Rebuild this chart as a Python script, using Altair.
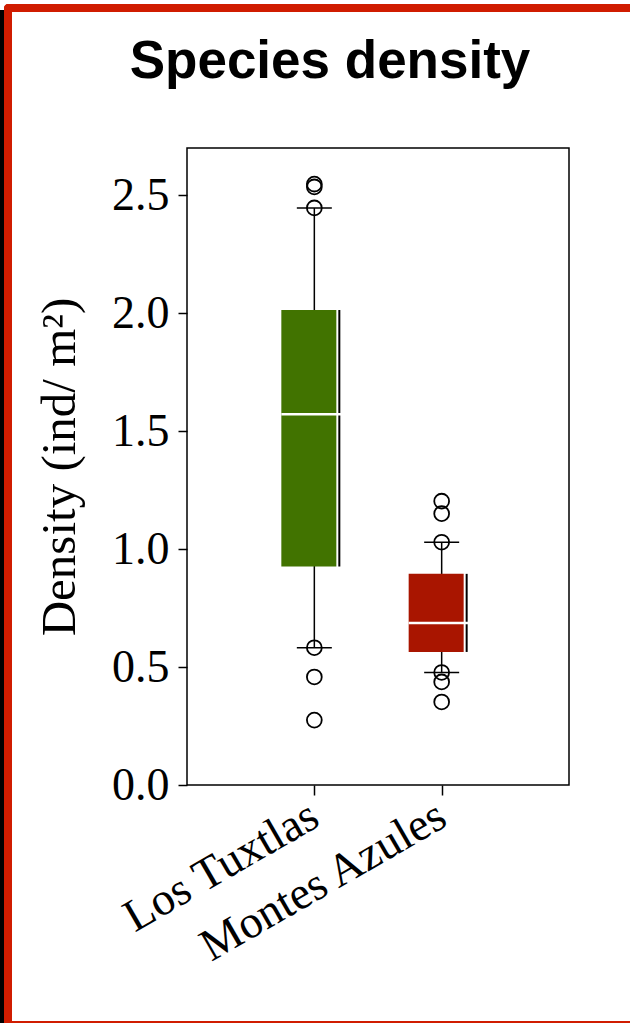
import altair as alt
import pandas as pd

groups = ["Los Tuxtlas", "Montes Azules"]
q1 = [0.926, 0.564]
median = [1.571, 0.687]
q3 = [2.013, 0.895]
whisker_low = [0.582, 0.477]
whisker_high = [2.446, 1.029]
box_colors = ["#417300", "#a91500"]

outlier_group = ["Los Tuxtlas"] * 6 + ["Montes Azules"] * 6
outlier_values = [2.547, 2.535, 2.446, 0.582, 0.458, 0.275,
                  1.203, 1.150, 1.029, 0.477, 0.437, 0.352]

y_ticks = [0.0, 0.5, 1.0, 1.5, 2.0, 2.5]

stats = pd.DataFrame({
    "group": groups, "q1": q1, "median": median, "q3": q3,
    "lo": whisker_low, "hi": whisker_high,
})
outliers = pd.DataFrame({"group": outlier_group, "value": outlier_values})
one = pd.DataFrame({"k": [0]})

W, H = 382, 637
SERIF = "Liberation Serif"

x_enc = alt.X(
    "group:N",
    scale=alt.Scale(type="point", padding=1, domain=groups),
    axis=alt.Axis(
        title=None, labelAngle=330, labelAlign="right", labelBaseline="middle",
        labelFont=SERIF, labelFontSize=46, labelColor="black",
        labelPadding=17, tickSize=10, tickWidth=1.5, tickColor="black",
        domain=False, grid=False, zindex=1, labelLimit=400,
    ),
)


def y_enc(field):
    return alt.Y(
        f"{field}:Q",
        scale=alt.Scale(domain=[0, 2.7], nice=False, zero=False),
        axis=alt.Axis(
            title="Density (ind/ m²)", values=y_ticks, format=".1f",
            labelFont=SERIF, labelFontSize=46, labelColor="black",
            labelPadding=9, tickSize=9, tickWidth=1.5, tickColor="black",
            titleFont=SERIF, titleFontSize=49, titleFontWeight="normal",
            titleColor="black", titlePadding=27,
            domain=False, grid=False, zindex=1,
        ),
    )


# decorative canvas frame (pixel geometry, not data)
bounds = alt.Chart(one).mark_rect(fill="white", fillOpacity=0).encode(
    x=alt.value(-187), x2=alt.value(443), y=alt.value(-148), y2=alt.value(875))
black_strip = alt.Chart(one).mark_rect(fill="black").encode(
    x=alt.value(-187), x2=alt.value(-183), y=alt.value(-138), y2=alt.value(875))
red_left = alt.Chart(one).mark_rect(fill="#d01c00", cornerRadiusTopLeft=6).encode(
    x=alt.value(-183), x2=alt.value(-175), y=alt.value(-144), y2=alt.value(875))
red_top = alt.Chart(one).mark_rect(fill="#d01c00", cornerRadiusTopLeft=6).encode(
    x=alt.value(-183), x2=alt.value(443), y=alt.value(-144), y2=alt.value(-136))
red_bottom = alt.Chart(one).mark_rect(fill="#d01c00").encode(
    x=alt.value(-183), x2=alt.value(443), y=alt.value(873), y2=alt.value(875))

title = alt.Chart(one).mark_text(
    font="Liberation Sans", fontSize=53, fontWeight="bold", color="black",
    align="center", baseline="alphabetic",
).encode(x=alt.value(143), y=alt.value(-70), text=alt.value("Species density"))

# plot frame
frame = alt.Chart(one).mark_rect(fill=None, stroke="black", strokeWidth=1.5).encode(
    x=alt.value(0), x2=alt.value(W), y=alt.value(0), y2=alt.value(H))

base = alt.Chart(stats)

whisker = base.mark_rule(color="black", strokeWidth=1.5).encode(
    x=x_enc, y=y_enc("lo"), y2="hi:Q")

box = base.mark_bar(size=55, xOffset=-5.5).encode(
    x=x_enc, y=y_enc("q1"), y2="q3:Q",
    color=alt.Color("group:N", scale=alt.Scale(domain=groups, range=box_colors), legend=None),
)

edge = base.mark_rule(color="black", strokeWidth=2, xOffset=25).encode(
    x=x_enc, y=y_enc("q1"), y2="q3:Q")

med = base.mark_tick(orient="horizontal", size=62, thickness=2.5, color="white",
                     xOffset=-2, opacity=1).encode(x=x_enc, y=y_enc("median"))

cap_lo = base.mark_tick(orient="horizontal", size=35, thickness=1.5, color="black",
                        opacity=1).encode(x=x_enc, y=y_enc("lo"))
cap_hi = base.mark_tick(orient="horizontal", size=35, thickness=1.5, color="black",
                        opacity=1).encode(x=x_enc, y=y_enc("hi"))

pts = alt.Chart(outliers).mark_point(
    shape="circle", filled=False, size=220, color="black", strokeWidth=1.8, opacity=1,
).encode(x=x_enc, y=y_enc("value"))

chart = alt.layer(
    bounds, black_strip, red_left, red_top, red_bottom, title, frame,
    whisker, box, edge, med, cap_lo, cap_hi, pts,
).properties(
    width=W, height=H, padding=0, background="white",
).configure_view(stroke=None)

chart.save("out.html", embed_options={"renderer": "svg", "actions": False})
